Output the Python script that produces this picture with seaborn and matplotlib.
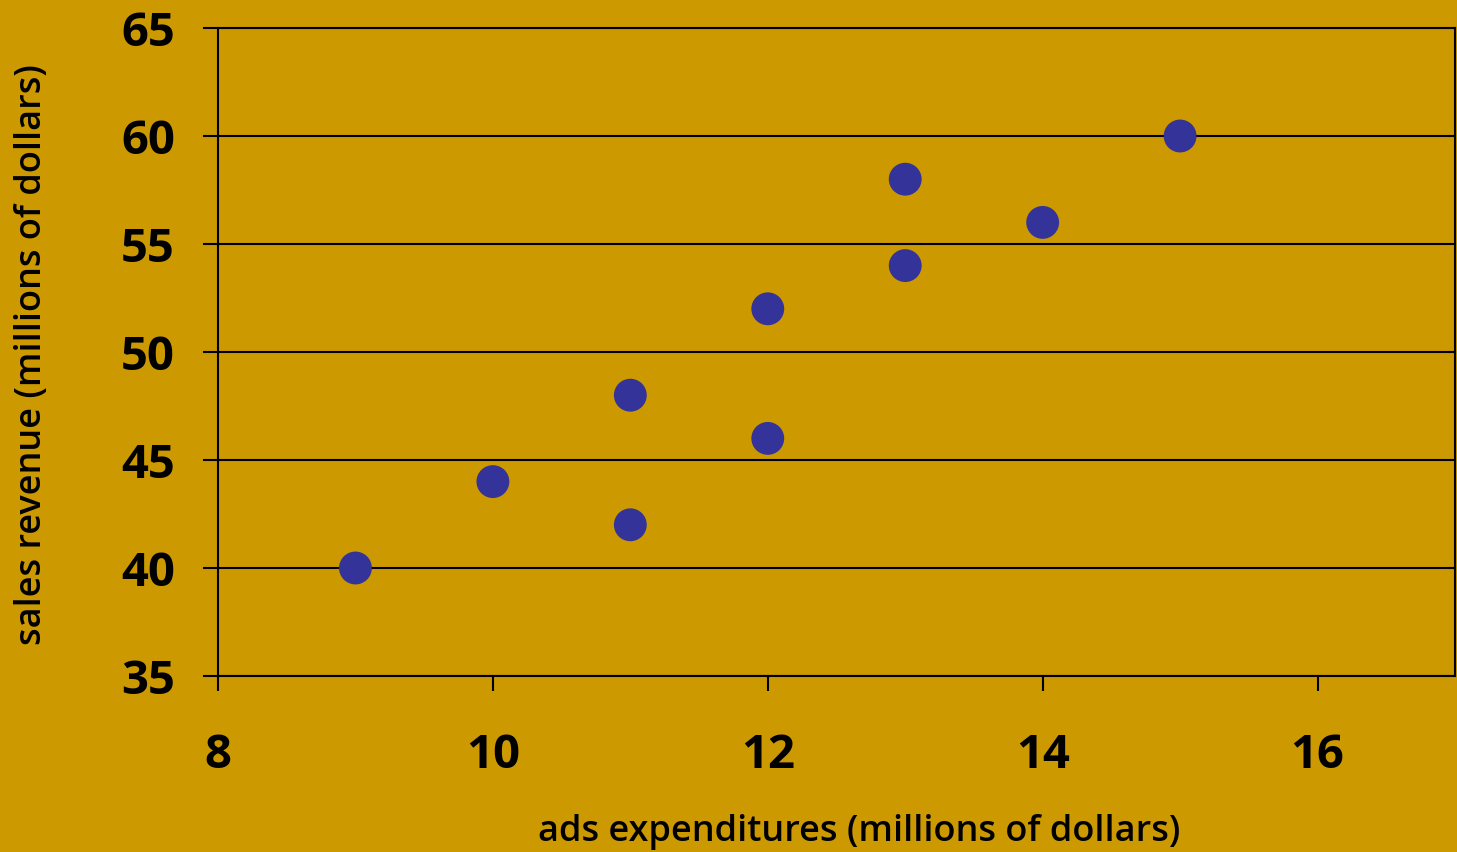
import matplotlib
matplotlib.use("Agg")
import matplotlib.pyplot as plt
import seaborn as sns
import pandas as pd

ads = [9, 10, 11, 11, 12, 12, 13, 13, 14, 15]
sales = [40, 44, 42, 48, 46, 52, 54, 58, 56, 60]
x_ticks = [8, 10, 12, 14, 16]
y_ticks = [35, 40, 45, 50, 55, 60, 65]

df = pd.DataFrame({"ads": ads, "sales": sales})

sns.set_theme(style="white")
bg = "#CC9900"
fig = plt.figure(figsize=(14.57, 8.52), dpi=100, facecolor=bg)
ax = fig.add_axes([218/1457, 1 - 676/852, (1455-218)/1457, (676-28)/852])
ax.set_facecolor(bg)

sns.scatterplot(data=df, x="ads", y="sales", ax=ax, s=560, color="#333399",
                edgecolor="none", zorder=3)

ax.set_xlim(8, 17)
ax.set_ylim(35, 65)
ax.set_xticks(x_ticks)
ax.set_yticks(y_ticks)
for y in y_ticks:
    ax.axhline(y, color="black", lw=1.5, zorder=1)

for s in ax.spines.values():
    s.set_color("black")
    s.set_linewidth(1.5)
    s.set_visible(True)

ax.tick_params(axis="both", direction="out", length=11, width=1.5, color="black",
               bottom=True, left=True)
ax.tick_params(axis="x", pad=29)
ax.tick_params(axis="y", pad=20)
for lab in ax.get_xticklabels() + ax.get_yticklabels():
    lab.set_fontfamily("Open Sans")
    lab.set_fontweight("bold")
    lab.set_fontsize(34)
    lab.set_color("black")

ax.set_xlabel("ads expenditures (millions of dollars)", fontsize=26, family="Open Sans",
              fontweight="semibold", color="black")
ax.set_ylabel("sales revenue (millions of dollars)", fontsize=26, family="Open Sans",
              fontweight="semibold", color="black")
ax.xaxis.set_label_coords((859-218)/(1455-218), -(832-676)/648)
ax.yaxis.set_label_coords(-(218-32)/1237, (676-355)/648)
ax.xaxis.label.set_va("center")
ax.yaxis.label.set_va("center")

fig.savefig("out.png", dpi=100, facecolor=bg)
